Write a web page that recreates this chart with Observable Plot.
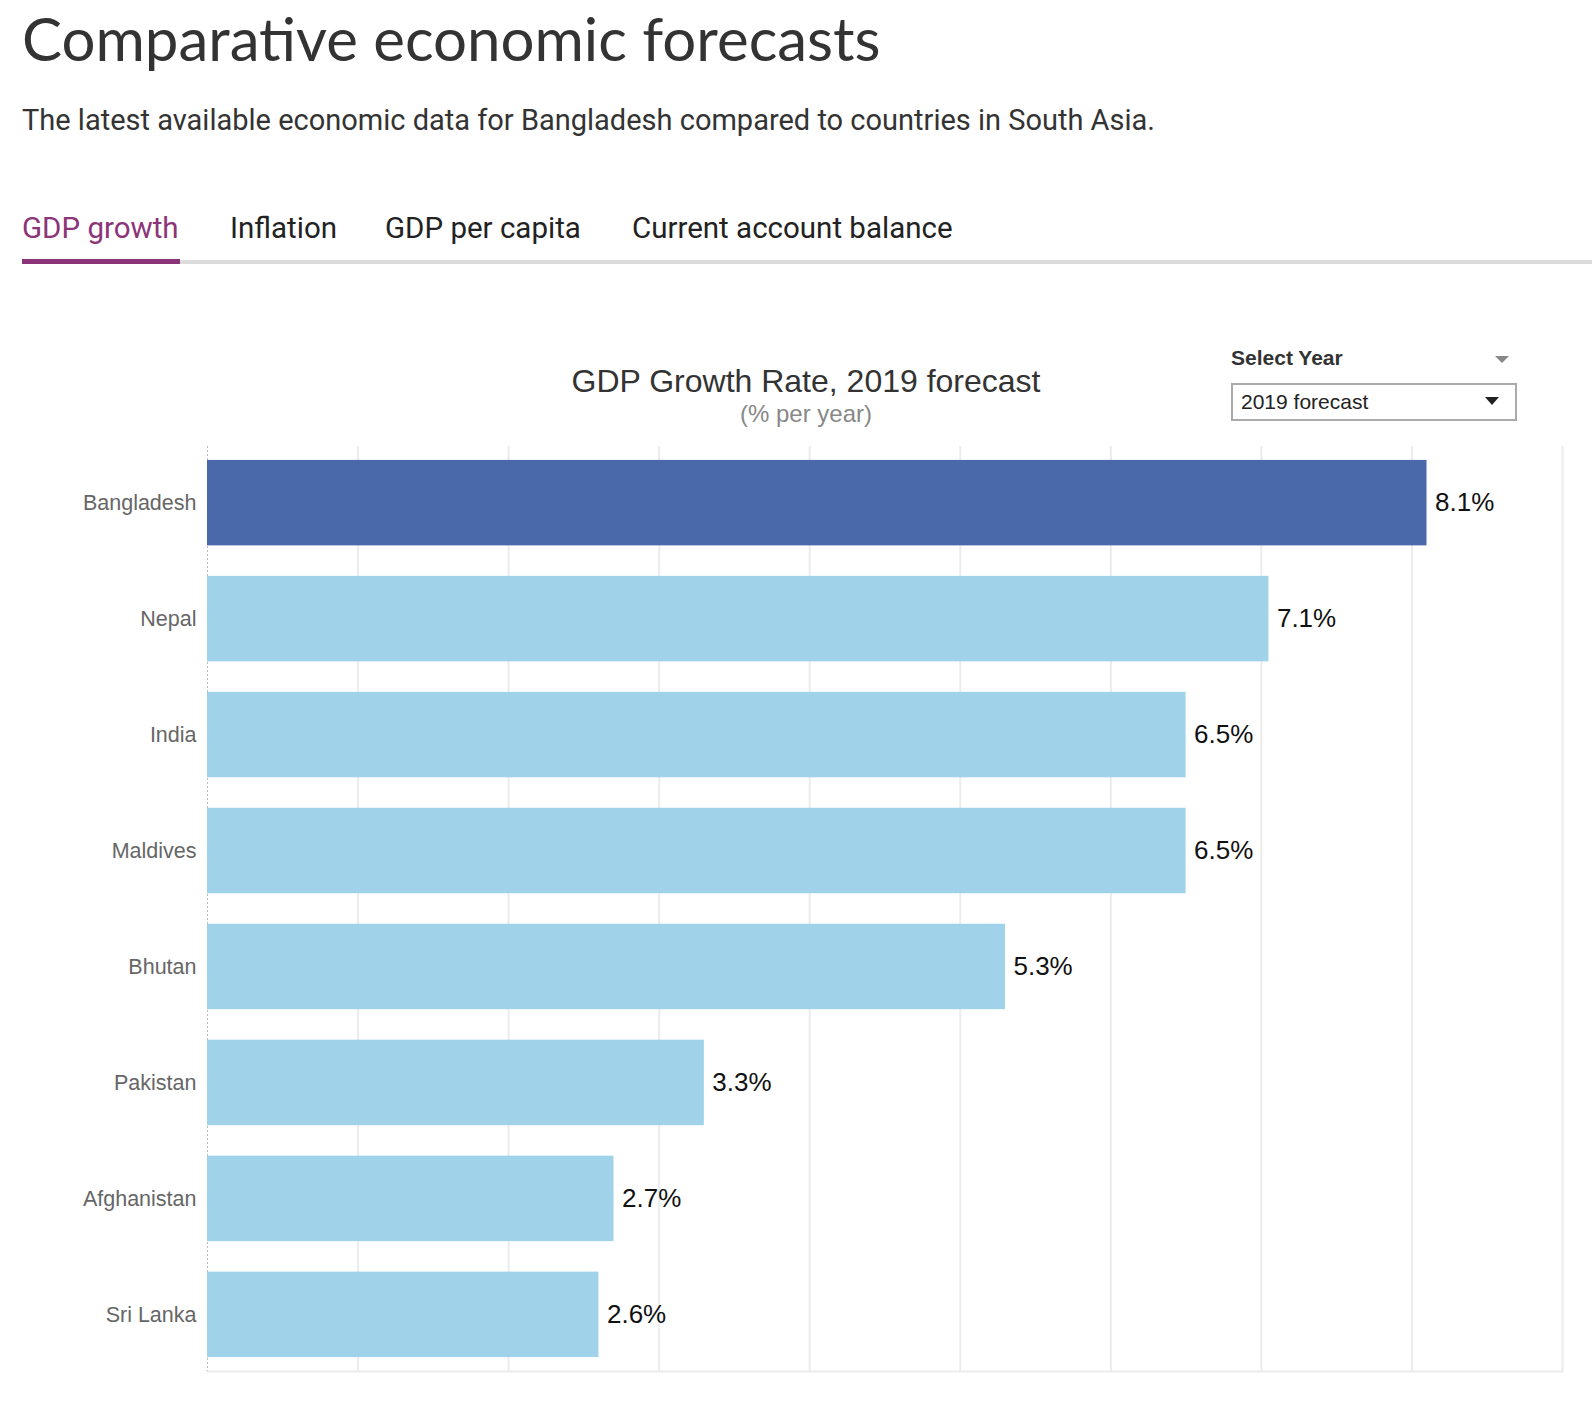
<!DOCTYPE html>
<html>
<head>
<meta charset="utf-8">
<script src="https://cdn.jsdelivr.net/npm/d3@7"></script>
<script src="https://cdn.jsdelivr.net/npm/@observablehq/plot@0.6"></script>
<style>
  html, body { margin: 0; padding: 0; background: #fff; }
  body { width: 1592px; height: 1404px; position: relative; overflow: hidden; }
  .abs { position: absolute; white-space: nowrap; }
  #title { left: 22px; top: 0px; font-family: Lato, sans-serif; font-size: 60px; color: #333; line-height: 76px; }
  #subtitle { left: 22px; top: 100px; font-family: Roboto, sans-serif; font-size: 29px; color: #333; line-height: 40px; }
  .tab { top: 208px; font-family: Roboto, sans-serif; font-size: 29.5px; color: #222; line-height: 40px; }
  #tabline { left: 22px; top: 260px; width: 1570px; height: 4px; background: #dcdcdc; }
  #tabactive { left: 22px; top: 259px; width: 158px; height: 5px; background: #8b3478; }
  #ctitle { left: 0; width: 1612px; text-align: center; top: 362px; font-family: "Liberation Sans", Arial, sans-serif; font-size: 32px; color: #333; line-height: 38px; }
  #csub { left: 0; width: 1612px; text-align: center; top: 399px; font-family: "Liberation Sans", Arial, sans-serif; font-size: 24px; color: #888; line-height: 30px; }
  #sellabel { left: 1231px; top: 345px; font-family: "Liberation Sans", Arial, sans-serif; font-weight: bold; font-size: 21px; color: #333; line-height: 26px; }
  #selbox { left: 1231px; top: 383px; width: 282px; height: 34px; border: 2px solid #aaa; box-sizing: content-box; font-family: "Liberation Sans", Arial, sans-serif; font-size: 21px; color: #222; line-height: 33px; }
  #chart { left: 0; top: 430px; }
</style>
</head>
<body>
<div class="abs" id="title">Comparative economic forecasts</div>
<div class="abs" id="subtitle">The latest available economic data for Bangladesh compared to countries in South Asia.</div>
<div class="abs tab" style="left:22px;color:#8b3478">GDP growth</div>
<div class="abs tab" style="left:230px">Inflation</div>
<div class="abs tab" style="left:385px">GDP per capita</div>
<div class="abs tab" style="left:632px">Current account balance</div>
<div class="abs" id="tabline"></div>
<div class="abs" id="tabactive"></div>
<div class="abs" id="ctitle">GDP Growth Rate, 2019 forecast</div>
<div class="abs" id="csub">(% per year)</div>
<div class="abs" id="sellabel">Select Year</div>
<svg class="abs" style="left:1495px;top:356px" width="16" height="10"><path d="M0,0 L14,0 L7,7 Z" fill="#888"/></svg>
<div class="abs" id="selbox"><span style="margin-left:8px">2019 forecast</span>
  <svg style="position:absolute;left:252px;top:12px" width="16" height="10"><path d="M0,0 L14,0 L7,8 Z" fill="#222"/></svg>
</div>
<div class="abs" id="chart"></div>
<script>
const countries = ["Bangladesh", "Nepal", "India", "Maldives", "Bhutan", "Pakistan", "Afghanistan", "Sri Lanka"];
const growth = [8.1, 7.05, 6.5, 6.5, 5.3, 3.3, 2.7, 2.6];
const valueLabels = ["8.1%", "7.1%", "6.5%", "6.5%", "5.3%", "3.3%", "2.7%", "2.6%"];
const highlight = "Bangladesh";
const xTicks = [1, 2, 3, 4, 5, 6, 7, 8, 9];

const data = countries.map((c, i) => ({country: c, value: growth[i], label: valueLabels[i]}));

const chart = Plot.plot({
  width: 1592,
  height: 951,
  marginLeft: 207,
  marginRight: 30,
  marginTop: 16,
  marginBottom: 10,
  style: {fontFamily: "'Liberation Sans', Arial, sans-serif", background: "transparent"},
  x: {domain: [0, 9], axis: null},
  y: {domain: countries, paddingInner: 0.263, paddingOuter: 0.12, round: false, label: null},
  marks: [
    Plot.ruleX(xTicks, {stroke: "#ececec", strokeWidth: 2}),
    Plot.frame({anchor: "bottom", stroke: "#ececec", strokeWidth: 2}),
    Plot.ruleX([0], {stroke: "#bbb", strokeWidth: 1, strokeDasharray: "2,2"}),
    Plot.barX(data, {
      y: "country", x: "value",
      fill: d => d.country === highlight ? "#4a69aa" : "#a0d2ea"
    }),
    Plot.text(data, {
      y: "country", x: "value", text: "label",
      textAnchor: "start", dx: 8, fontSize: 26, fill: "#111"
    }),
    Plot.axisY({tickSize: 0, tickPadding: 11, fontSize: 21.5, color: "#666", label: null})
  ]
});
document.getElementById("chart").appendChild(chart);
</script>
</body>
</html>
